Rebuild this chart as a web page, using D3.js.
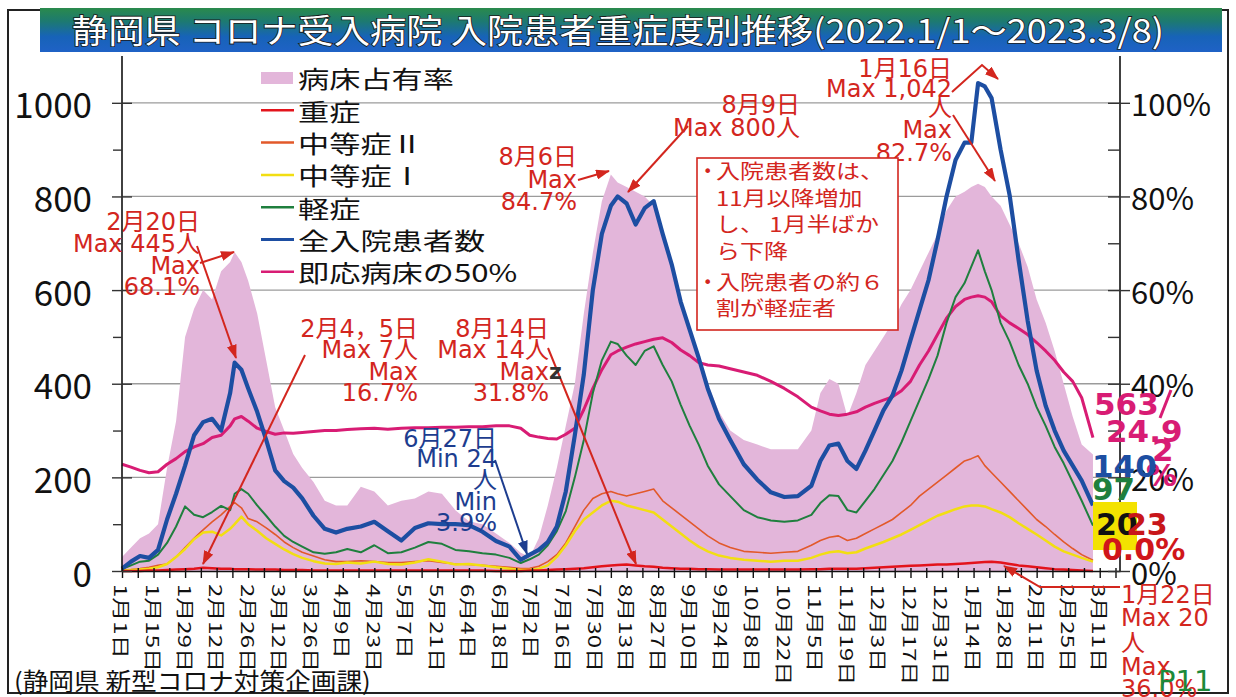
<!DOCTYPE html>
<html>
<head>
<meta charset="utf-8">
<script src="https://cdn.jsdelivr.net/npm/d3@7"></script>
<style>
  html, body { margin: 0; padding: 0; background: #fff; }
  svg { display: block; }
</style>
</head>
<body>
<div id="chart"></div>
<script>
// 静岡県 コロナ受入病院 入院患者重症度別推移 (2022.1.1 - 2023.3.8)

// sample days, counted from 2022-01-01
const sampleDays = [0,4,8,12,16,20,24,28,32,36,
  40,44,48,50,53,56,60,64,68,72,
  76,80,85,90,95,100,106,112,118,124,
  130,136,142,148,154,160,166,172,177,181,
  185,189,193,197,201,205,209,213,217,220,
  224,228,232,236,240,244,248,252,256,260,
  265,270,276,282,288,294,300,306,310,314,
  318,322,326,330,334,338,342,346,350,354,
  358,362,366,370,374,377,380,383,386,390,
  394,398,402,406,410,414,418,422,426,431]

// 全入院患者数
const total = [5,20,32,28,45,110,165,225,290,318,
  325,300,380,445,430,390,340,280,215,192,
  178,155,118,90,82,90,95,105,85,65,
  92,102,100,100,98,84,64,52,24,35,
  45,62,95,170,290,420,600,720,780,800,
  785,740,775,790,720,655,575,515,455,390,
  325,280,228,195,168,158,160,182,235,268,
  272,235,218,257,300,343,375,428,493,557,
  621,707,800,878,915,915,1042,1035,1010,900,
  803,664,535,428,353,300,257,225,193,140]

// 軽症
const mild = [4,12,20,22,35,60,95,138,120,115,
  126,139,130,165,175,165,140,118,95,75,
  62,52,40,37,40,47,40,55,38,40,
  50,62,58,45,42,38,35,28,17,25,
  35,55,85,128,200,280,380,450,490,485,
  460,440,470,480,440,405,355,310,270,225,
  185,160,130,115,108,105,108,120,145,162,
  160,130,125,150,175,205,235,275,320,365,
  410,460,530,585,615,650,685,640,600,530,
  490,440,400,350,310,265,230,190,150,97]

// 中等症Ⅰ
const moderate1 = [1,2,3,5,8,15,30,47,68,82,
  84,76,90,100,116,100,86,70,58,46,
  36,28,21,16,15,18,16,20,15,14,
  18,25,20,14,15,12,8,5,2,2,
  5,12,30,55,85,110,125,140,150,148,
  140,135,130,125,110,95,80,65,52,42,
  33,28,24,22,20,22,22,28,35,40,
  42,38,40,48,55,62,70,78,88,98,
  108,118,125,132,138,140,140,138,132,125,
  115,102,90,78,65,52,42,35,28,20]

// 中等症Ⅱ
const moderate2 = [2,3,5,8,12,15,30,50,70,88,
  105,120,138,146,135,112,105,92,78,62,
  50,40,32,24,20,20,22,20,18,18,
  20,22,18,15,14,12,10,8,5,6,
  10,20,35,60,95,130,155,165,170,165,
  160,165,170,175,150,135,120,105,90,75,
  60,50,42,40,38,40,42,55,65,72,
  75,65,70,80,90,100,110,125,140,160,
  175,190,205,220,235,240,246,225,210,190,
  170,150,130,110,95,78,62,48,35,23]

// 重症
const severe = [0,0,0,1,1,2,3,4,5,7,
  6,5,5,4,4,4,3,3,3,2,
  2,2,1,1,1,1,1,1,1,1,
  1,1,1,1,1,1,0,0,0,1,
  1,2,3,4,5,6,8,10,12,13,
  14,12,10,9,7,6,5,5,4,4,
  3,3,3,3,3,3,3,4,4,5,
  5,5,5,6,7,8,9,10,11,12,
  13,14,14,15,16,17,18,19,20,18,
  15,12,10,8,6,4,3,2,1,0]

// 即応病床の50%
const bedHalf = [228,222,215,210,212,228,240,255,265,272,
  285,290,310,325,330,320,305,298,292,295,
  294,296,298,300,300,302,304,305,303,305,
  306,306,307,307,308,308,310,310,305,290,
  286,283,282,292,305,345,390,430,462,470,
  478,485,490,495,498,488,472,460,445,440,
  438,432,425,418,405,390,372,350,342,335,
  332,335,340,350,358,365,372,385,405,440,
  470,505,540,565,580,585,588,585,575,545,
  530,518,505,488,470,450,425,405,370,285]

// 病床占有率 (%)
const occupancy = [3,5,7,8,10,22,32,50,56,60,
  58,64,66,68.1,66,62,55,45,35,30,
  25,22,19,15,14,14,18,17,14,15,
  15.5,17,16.5,13,10.6,10,8,6,3.9,3,
  7,14,22,31,40,55,68,79,84.7,83,
  82,81,80,78,72,65,58,52,46,40,
  34,30,28,27,26,26,26,30,38,41,
  40,33,38,44,47,50,53,57,60,64,
  68,72,77,80,81,82,82.7,82,80,78,
  74,70,65,58,53,47,40,33,27,24.9]

const xLabels = ['1月1日','1月15日','1月29日','2月12日','2月26日','3月12日','3月26日',
  '4月9日','4月23日','5月7日','5月21日','6月4日','6月18日','7月2日','7月16日','7月30日',
  '8月13日','8月27日','9月10日','9月24日','10月8日','10月22日','11月5日','11月19日',
  '12月3日','12月17日','12月31日','1月14日','1月28日','2月11日','2月25日','3月11日']
const leftTicks = [0,100,200,300,400,500,600,700,800,900,1000]
const rightTicks = [0,10,20,30,40,50,60,70,80,90,100]

const legendItems = ['病床占有率','重症','中等症Ⅱ','中等症Ⅰ','軽症','全入院患者数','即応病床の50%']
const colors = {
  area: '#e3b6da', severe: '#e3141c', mod2: '#e2592a', mod1: '#f2de12',
  mild: '#1f7f3e', total: '#1d4ea2', bed: '#d81c74', note: '#d3261e', navy: '#1d3d8f'
}

const CJK = '"Noto Sans CJK JP", sans-serif'
const LAT = '"DejaVu Sans", "Noto Sans CJK JP", sans-serif'

const start = new Date(2022, 0, 1)
const dayDate = d => d3.timeDay.offset(start, d)

const svg = d3.select('#chart').append('svg')
    .attr('width', 1236)
    .attr('height', 697)

svg.append('rect').attr('width', 1236).attr('height', 697).attr('fill', '#fff')

let defs = svg.append('defs')
let grad = defs.append('linearGradient').attr('id', 'titleGrad')
    .attr('x1', 0).attr('y1', 0).attr('x2', 0).attr('y2', 1)
grad.append('stop').attr('offset', '0%').attr('stop-color', '#2a8a4c')
grad.append('stop').attr('offset', '30%').attr('stop-color', '#1d7a70')
grad.append('stop').attr('offset', '65%').attr('stop-color', '#1763b8')
grad.append('stop').attr('offset', '100%').attr('stop-color', '#1f62c6')

function arrowMarker(id, color) {
  defs.append('marker').attr('id', id)
    .attr('markerUnits', 'userSpaceOnUse')
    .attr('markerWidth', 14).attr('markerHeight', 10)
    .attr('refX', 13).attr('refY', 5).attr('orient', 'auto')
    .append('path').attr('d', 'M0,0 L14,5 L0,10 z').attr('fill', color)
}
arrowMarker('arrRed', colors.note)
arrowMarker('arrNavy', colors.navy)

// outer frame and title
svg.append('rect').attr('x', 8).attr('y', 10).attr('width', 1220).attr('height', 683)
  .attr('fill', 'none').attr('stroke', '#222').attr('stroke-width', 2)

svg.append('rect').attr('x', 40).attr('y', 8).attr('width', 1182).attr('height', 44)
  .attr('fill', 'url(#titleGrad)')

svg.append('text')
  .attr('x', 72).attr('y', 43)
  .attr('font-family', CJK).attr('font-size', 33)
  .attr('fill', '#fff').attr('stroke', '#1a1a1a').attr('stroke-width', 1.6)
  .attr('paint-order', 'stroke')
  .attr('textLength', 1092).attr('lengthAdjust', 'spacingAndGlyphs')
  .text('静岡県 コロナ受入病院 入院患者重症度別推移(2022.1/1～2023.3/8)')

// scales
const x = d3.scaleTime().domain([start, dayDate(443)]).range([122, 1120])
const yL = d3.scaleLinear().domain([0, 1100]).range([571, 56])
const yR = d3.scaleLinear().domain([0, 110]).range([571, 56])

const rows = sampleDays.map((d, i) => ({
  date: dayDate(d),
  total: total[i], mild: mild[i], mod1: moderate1[i], mod2: moderate2[i],
  severe: severe[i], bed: bedHalf[i], occ: occupancy[i]
}))

// gridlines
svg.append('g').selectAll('line')
  .data([200, 400, 600, 800, 1000]).join('line')
  .attr('x1', 122).attr('x2', 1120)
  .attr('y1', d => yL(d)).attr('y2', d => yL(d))
  .attr('stroke', '#9b9b9b').attr('stroke-width', 1.3)

// occupancy area
svg.append('path').datum(rows)
  .attr('fill', colors.area)
  .attr('d', d3.area().x(d => x(d.date)).y0(yR(0)).y1(d => yR(d.occ)))

// lines
function drawLine(key, color, width) {
  svg.append('path').datum(rows)
    .attr('fill', 'none').attr('stroke', color).attr('stroke-width', width)
    .attr('stroke-linejoin', 'round')
    .attr('d', d3.line().x(d => x(d.date)).y(d => yL(d[key])))
}
drawLine('bed', colors.bed, 3)
drawLine('mod2', colors.mod2, 1.6)
drawLine('mod1', colors.mod1, 2.5)
drawLine('mild', colors.mild, 2)
drawLine('severe', colors.severe, 2.5)
drawLine('total', colors.total, 4.2)

// axes
let weekTicks = d3.range(0, 443, 7).map(dayDate)
let xAxis = svg.append('g').attr('transform', 'translate(0,571)')
  .call(d3.axisBottom(x).tickValues(weekTicks).tickSize(7).tickSizeOuter(0).tickFormat(''))
xAxis.select('.domain').attr('stroke', '#111').attr('stroke-width', 1.6)
xAxis.selectAll('.tick line').attr('stroke', '#111').attr('stroke-width', 1.4).attr('y1', -3)

svg.append('g').selectAll('text')
  .data(xLabels).join('text')
  .attr('transform', (d, i) => 'translate(' + x(dayDate(i * 14)) + ',584) rotate(90) scale(1,0.74)')
  .attr('dominant-baseline', 'central')
  .attr('font-family', CJK).attr('font-size', 24).attr('fill', '#111')
  .text(d => d)

let leftAxis = svg.append('g').attr('transform', 'translate(122,0)')
  .call(d3.axisLeft(yL).tickValues(leftTicks).tickSize(10).tickSizeOuter(0).tickFormat(''))
leftAxis.select('.domain').attr('stroke', '#111').attr('stroke-width', 1.6)
  .attr('d', 'M0,56 V571')
leftAxis.selectAll('.tick line').attr('stroke', '#333').attr('stroke-width', 1.4)
  .attr('x2', d => d % 200 === 0 ? -10 : -9)
  .attr('x1', d => d % 200 === 0 ? 10 : 0)

svg.append('g').selectAll('text')
  .data(leftTicks.filter(d => d % 200 === 0)).join('text')
  .attr('x', 92).attr('y', d => yL(d))
  .attr('text-anchor', 'end').attr('dominant-baseline', 'central')
  .attr('font-family', CJK).attr('font-size', 35).attr('fill', '#111')
  .text(d => d)

let rightAxis = svg.append('g').attr('transform', 'translate(1120,0)')
  .call(d3.axisRight(yR).tickValues(rightTicks).tickSize(10).tickSizeOuter(0).tickFormat(''))
rightAxis.select('.domain').attr('stroke', '#111').attr('stroke-width', 1.6)
  .attr('d', 'M0,56 V571')
rightAxis.selectAll('.tick line').attr('stroke', '#333').attr('stroke-width', 1.4)
  .attr('x1', -12).attr('x2', d => d % 20 === 0 ? 10 : 0)

svg.append('g').selectAll('text')
  .data(rightTicks.filter(d => d % 20 === 0)).join('text')
  .attr('x', 1131).attr('y', d => yR(d))
  .attr('dominant-baseline', 'central')
  .attr('font-family', CJK).attr('font-size', 31).attr('fill', '#111')
  .text(d => d + '%')

// legend
let legend = svg.append('g')
legendItems.forEach((name, i) => {
  let cy = 78 + i * 32.3
  if (i === 0) {
    legend.append('rect').attr('x', 261).attr('y', cy - 6).attr('width', 32).attr('height', 12)
      .attr('fill', colors.area)
  } else {
    let c = [null, colors.severe, colors.mod2, colors.mod1, colors.mild, colors.total, colors.bed][i]
    legend.append('line').attr('x1', 261).attr('x2', 294).attr('y1', cy).attr('y2', cy)
      .attr('stroke', c).attr('stroke-width', i === 5 ? 3 : 2.5)
  }
  legend.append('text')
    .attr('transform', 'translate(298,' + cy + ') scale(1.3,1)')
    .attr('dominant-baseline', 'central')
    .attr('font-family', CJK).attr('font-size', 24).attr('fill', '#111')
    .text(name)
})

// annotations
function note(lines, xPos, baselines, color, anchor) {
  let g = svg.append('g')
  lines.forEach((t, i) => {
    g.append('text').attr('x', xPos).attr('y', baselines[i])
      .attr('text-anchor', anchor || 'end')
      .attr('font-family', LAT).attr('font-size', 24).attr('fill', color)
      .text(t)
  })
}
function arrow(points, color, marker) {
  svg.append('path')
    .attr('d', d3.line()(points))
    .attr('fill', 'none').attr('stroke', color).attr('stroke-width', 2)
    .attr('marker-end', 'url(#' + marker + ')')
}

note(['2月20日', 'Max 445人', 'Max', '68.1%'], 200, [230, 252, 274, 295], colors.note)
arrow([[197, 246], [236, 358]], colors.note, 'arrRed')
arrow([[200, 263], [234, 252]], colors.note, 'arrRed')

note(['2月4，5日', 'Max 7人', 'Max', '16.7%'], 418, [337, 358, 380, 401], colors.note)
arrow([[305, 355], [203, 564]], colors.note, 'arrRed')

note(['8月14日', 'Max 14人', 'Max', '31.8%'], 549, [337, 358, 380, 401], colors.note)
arrow([[548, 348], [636, 564]], colors.note, 'arrRed')
svg.append('text').attr('x', 549).attr('y', 379)
  .attr('font-family', LAT).attr('font-size', 22).attr('font-weight', 'bold')
  .attr('fill', '#333').text('z')

note(['6月27日', 'Min 24', '人', 'Min', '3.9%'], 497, [447, 467, 488, 510, 531], colors.navy)
arrow([[495, 460], [527, 554]], colors.navy, 'arrNavy')

note(['8月6日', 'Max', '84.7%'], 577, [165, 188, 210], colors.note)
arrow([[578, 180], [609, 171]], colors.note, 'arrRed')

note(['8月9日', 'Max 800人'], 800, [113, 136], colors.note)
arrow([[688, 126], [628, 192]], colors.note, 'arrRed')

note(['1月16日', 'Max 1,042', '人', 'Max', '82.7%'], 952, [77, 97, 116, 138, 161], colors.note)
arrow([[952, 92], [982, 65], [998, 79]], colors.note, 'arrRed')
arrow([[953, 115], [995, 181]], colors.note, 'arrRed')

note(['1月22日', 'Max 20', '人', 'Max', '36.0%'], 1121, [603, 626, 651, 675, 697], colors.note, 'start')
arrow([[1120, 587], [1040, 587], [1004, 566]], colors.note, 'arrRed')

// comment box
svg.append('rect').attr('x', 697).attr('y', 158).attr('width', 201).attr('height', 172)
  .attr('fill', '#fff').attr('stroke', colors.note).attr('stroke-width', 1.6)
const boxLines = [['•', '入院患者数は、', 179], ['', '11月以降増加', 206], ['', 'し、 1月半ばか', 232],
  ['', 'ら下降', 259], ['•', '入院患者の約６', 290], ['', '割が軽症者', 316]]
boxLines.forEach(l => {
  if (l[0]) {
    svg.append('text').attr('x', 703).attr('y', l[2] - 2)
      .attr('font-family', LAT).attr('font-size', 16).attr('fill', colors.note).text(l[0])
  }
  svg.append('text').attr('transform', 'translate(716,' + l[2] + ') scale(1.2,1)')
    .attr('font-family', CJK).attr('font-size', 20).attr('fill', colors.note).text(l[1])
})

// end-of-series labels
function endLabel(t, xPos, yPos, color, size) {
  svg.append('text').attr('x', xPos).attr('y', yPos)
    .attr('font-family', LAT).attr('font-size', size || 31).attr('font-weight', 'bold')
    .attr('fill', color).text(t)
}
endLabel('563', 1094, 415, colors.bed)
svg.append('line').attr('x1', 1171).attr('y1', 390).attr('x2', 1160).attr('y2', 418)
  .attr('stroke', colors.bed).attr('stroke-width', 3)
endLabel('24.9', 1106, 442, colors.bed)
endLabel('2', 1152, 461, colors.bed)
endLabel('%', 1146, 486, colors.bed)
endLabel('140', 1092, 477, colors.total)
endLabel('97', 1092, 500, colors.mild)
svg.append('rect').attr('x', 1093).attr('y', 502).attr('width', 44).attr('height', 48)
  .attr('fill', '#f3e200')
endLabel('20', 1096, 535, '#111', 30)
endLabel('23', 1126, 535, '#c8161a', 30)
endLabel('0.0%', 1102, 560, '#d0161a', 30)

// source and page number
svg.append('text').attr('transform', 'translate(14,690) scale(1.07,1)')
  .attr('font-family', CJK).attr('font-size', 24).attr('fill', '#111')
  .text('(静岡県 新型コロナ対策企画課)')
svg.append('text').attr('x', 1158).attr('y', 691)
  .attr('font-family', LAT).attr('font-size', 29).attr('fill', '#1c8a3a')
  .text('P11')
</script>
</body>
</html>
